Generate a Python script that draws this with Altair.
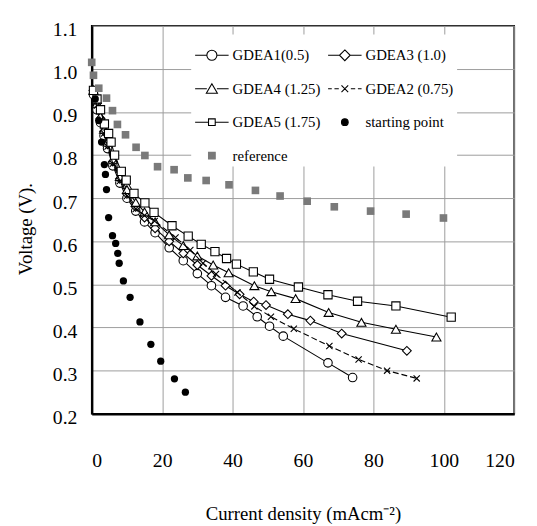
import altair as alt
import pandas as pd

FONT = "Liberation Serif"

# legend entries listed column by column (Vega fills the 2-column legend column-wise)
series_order = ["GDEA1(0.5)", "GDEA4 (1.25)", "GDEA5 (1.75)", "reference",
                "GDEA3 (1.0)", "GDEA2 (0.75)", "starting point"]

gdea1_x = [0.5, 1.5, 2.5, 3.5, 4.5, 6, 8, 10, 12.5, 15, 18, 22, 26, 30, 34, 38, 43, 47, 50.5, 54.4, 67.1, 74.1]
gdea1_y = [0.94, 0.905, 0.875, 0.845, 0.815, 0.775, 0.735, 0.70, 0.67, 0.645, 0.62, 0.585, 0.555, 0.525, 0.497, 0.47, 0.45, 0.425, 0.403, 0.380, 0.318, 0.284]

gdea3_x = [0.5, 1.5, 2.5, 3.5, 4.5, 6, 8, 10, 12.5, 15, 18, 22, 26, 30, 34, 38, 42, 46, 49.5, 55.7, 62.1, 71.0, 89.5]
gdea3_y = [0.95, 0.92, 0.885, 0.855, 0.825, 0.785, 0.745, 0.71, 0.68, 0.655, 0.63, 0.60, 0.572, 0.545, 0.52, 0.497, 0.477, 0.46, 0.452, 0.431, 0.416, 0.386, 0.346]

gdea4_x = [0.5, 1.5, 2.5, 3.5, 4.5, 6, 8, 10, 12.5, 15, 18, 22, 26, 30, 34.5, 38.9, 46.2, 51.0, 57.9, 67.3, 76.6, 86.4, 97.9]
gdea4_y = [0.95, 0.92, 0.89, 0.86, 0.83, 0.79, 0.75, 0.72, 0.69, 0.668, 0.645, 0.615, 0.59, 0.566, 0.545, 0.527, 0.497, 0.483, 0.467, 0.435, 0.412, 0.396, 0.378]

gdea2_x = [0.5, 1.5, 2.5, 3.5, 4.5, 6, 8, 10, 12.5, 15, 17.9, 23.8, 28.0, 31.6, 35.3, 41.4, 46.2, 50.9, 57.4, 67.5, 75.8, 83.9, 92.3]
gdea2_y = [0.95, 0.915, 0.88, 0.85, 0.82, 0.78, 0.74, 0.705, 0.675, 0.66, 0.647, 0.609, 0.580, 0.549, 0.524, 0.481, 0.449, 0.425, 0.397, 0.357, 0.326, 0.300, 0.282]

gdea5_x = [0.5, 1.5, 2.5, 3.6, 4.8, 5.5, 6.5, 8.4, 9.8, 12.0, 15.1, 17.7, 22.8, 27.4, 31.1, 35.0, 38.3, 41.1, 45.9, 50.5, 58.7, 67.1, 75.5, 86.4, 102.1]
gdea5_y = [0.95, 0.93, 0.905, 0.872, 0.85, 0.83, 0.80, 0.762, 0.742, 0.711, 0.689, 0.667, 0.636, 0.612, 0.593, 0.576, 0.560, 0.547, 0.529, 0.512, 0.494, 0.476, 0.461, 0.450, 0.424]

start_x = [1.0, 2.0, 2.8, 3.6, 3.9, 4.2, 4.8, 5.9, 6.8, 7.4, 7.8, 9.0, 10.9, 13.7, 16.8, 19.6, 23.5, 26.6]
start_y = [0.93, 0.88, 0.83, 0.778, 0.755, 0.72, 0.655, 0.613, 0.595, 0.572, 0.549, 0.508, 0.47, 0.413, 0.361, 0.322, 0.281, 0.25]

ref_x = [0, 0.5, 2, 4.2, 5.9, 7.3, 9.6, 12.6, 15.1, 18.7, 23.4, 27.3, 32.5, 39, 46.5, 53.5, 61.2, 68.9, 79.2, 89.3, 99.9]
ref_y = [1.015, 0.985, 0.955, 0.932, 0.903, 0.871, 0.847, 0.818, 0.799, 0.773, 0.766, 0.747, 0.741, 0.731, 0.718, 0.705, 0.693, 0.68, 0.67, 0.663, 0.654]

x_ticks = [0, 20, 40, 60, 80, 100, 120]
y_ticks = [0.2, 0.3, 0.4, 0.5, 0.6, 0.7, 0.8, 0.9, 1.0, 1.1]

rows = []
for name, xs, ys in [
    ("GDEA1(0.5)", gdea1_x, gdea1_y),
    ("GDEA3 (1.0)", gdea3_x, gdea3_y),
    ("GDEA4 (1.25)", gdea4_x, gdea4_y),
    ("GDEA2 (0.75)", gdea2_x, gdea2_y),
    ("GDEA5 (1.75)", gdea5_x, gdea5_y),
    ("starting point", start_x, start_y),
    ("reference", ref_x, ref_y),
]:
    for a, b in zip(xs, ys):
        rows.append({"series": name, "current": a, "voltage": b})
df = pd.DataFrame(rows)

X = alt.X("current:Q",
          scale=alt.Scale(domain=[0, 120], nice=False, zero=False),
          axis=alt.Axis(values=x_ticks, title="Current density (mAcm\u207b\u00b2)",
                        labelPadding=38, titlePadding=34))
Y = alt.Y("voltage:Q",
          scale=alt.Scale(domain=[0.2, 1.1], nice=False, zero=False),
          axis=alt.Axis(values=y_ticks, format=".1f", title="Voltage (V).",
                        labelPadding=15, titlePadding=17, labelOffset=4, titleY=206))

X_SHAPE = "M-1,-1L1,1M-1,1L1,-1"

def gdea(name, shape, size, dash=None):
    base = alt.Chart(df).transform_filter(alt.datum.series == name)
    lkw = dict(color="black", strokeWidth=1.1)
    if dash:
        lkw["strokeDash"] = dash
    line = base.mark_line(**lkw).encode(x=X, y=Y, order="current:Q")
    pts = base.mark_point(shape=shape, filled=True, fill="white", stroke="black",
                          strokeWidth=1.1, size=size, opacity=1).encode(x=X, y=Y)
    return [line, pts]

layers = []
layers += gdea("GDEA1(0.5)", "circle", 75)
layers += gdea("GDEA3 (1.0)", "diamond", 80)
layers += gdea("GDEA4 (1.25)", "triangle-up", 85)
layers += gdea("GDEA2 (0.75)", X_SHAPE, 40, dash=[6, 3])
layers += gdea("GDEA5 (1.75)", "square", 70)

start_layer = alt.Chart(df).transform_filter(alt.datum.series == "starting point").mark_point(
    shape="circle", filled=True, color="black", size=55, opacity=1).encode(x=X, y=Y)
ref_layer = alt.Chart(df).transform_filter(alt.datum.series == "reference").mark_point(
    shape="square", filled=True, color="#7a7a7a", size=60, opacity=1).encode(x=X, y=Y)

shape_for = {
    "GDEA1(0.5)": "M-1,0H-0.3M0.3,0H1M0.3,0A0.3,0.3 0 1,1 -0.3,0A0.3,0.3 0 1,1 0.3,0",
    "GDEA3 (1.0)": "M-1,0H-0.32M0.32,0H1M0,-0.32L0.32,0L0,0.32L-0.32,0Z",
    "GDEA4 (1.25)": "M-1,0H-0.3M0.3,0H1M0,-0.3L0.33,0.27L-0.33,0.27Z",
    "GDEA2 (0.75)": "M-1,0H-0.78M-0.62,0H-0.36M0.36,0H0.62M0.78,0H1M-0.2,-0.2L0.2,0.2M-0.2,0.2L0.2,-0.2",
    "GDEA5 (1.75)": "M-1,0H-0.2M0.2,0H1M-0.2,-0.2H0.2V0.2H-0.2Z",
    "starting point": "M0.2,0A0.2,0.2 0 1,1 -0.2,0A0.2,0.2 0 1,1 0.2,0",
    "reference": "M-0.2,-0.2H0.2V0.2H-0.2Z",
}
fill_for = {"starting point": "black", "reference": "#7a7a7a"}
stroke_for = {"reference": "#7a7a7a"}
legend_paths = [shape_for[s] for s in series_order]
legend_fill = [fill_for.get(s, "white") for s in series_order]
legend_stroke = [stroke_for.get(s, "black") for s in series_order]

leg = alt.Legend(title=None, orient="none", legendX=101, legendY=9, columns=2,
                 symbolSize=1156, symbolStrokeWidth=1.1, symbolOpacity=1,
                 labelFont=FONT, labelFontSize=15, labelColor="black", labelOffset=3,
                 columnPadding=4, rowPadding=8, padding=3, fillColor="white",
                 labelLimit=200)

legend_layer = alt.Chart(df).mark_point(filled=True, opacity=0).encode(
    x=X, y=Y,
    shape=alt.Shape("series:N", scale=alt.Scale(domain=series_order, range=legend_paths), legend=leg),
    fill=alt.Fill("series:N", scale=alt.Scale(domain=series_order, range=legend_fill), legend=leg),
    stroke=alt.Stroke("series:N", scale=alt.Scale(domain=series_order, range=legend_stroke), legend=leg),
)

chart = alt.layer(*layers, start_layer, ref_layer, legend_layer).properties(
    width=429, height=394,
    autosize=alt.AutoSizeParams(type="none"),
    padding={"left": 85, "top": 14, "right": 15, "bottom": 110},
    background="white",
).configure_view(
    stroke="black", strokeWidth=1.6
).configure_axis(
    grid=True, gridColor="#9c9c9c", gridWidth=1,
    domainColor="black", domainWidth=2.4, ticks=False,
    labelFont=FONT, labelFontSize=20, labelColor="black",
    titleFont=FONT, titleFontSize=19, titleFontWeight="normal", titleColor="black",
)

chart.save("out.html", embed_options={"renderer": "svg", "actions": False})
